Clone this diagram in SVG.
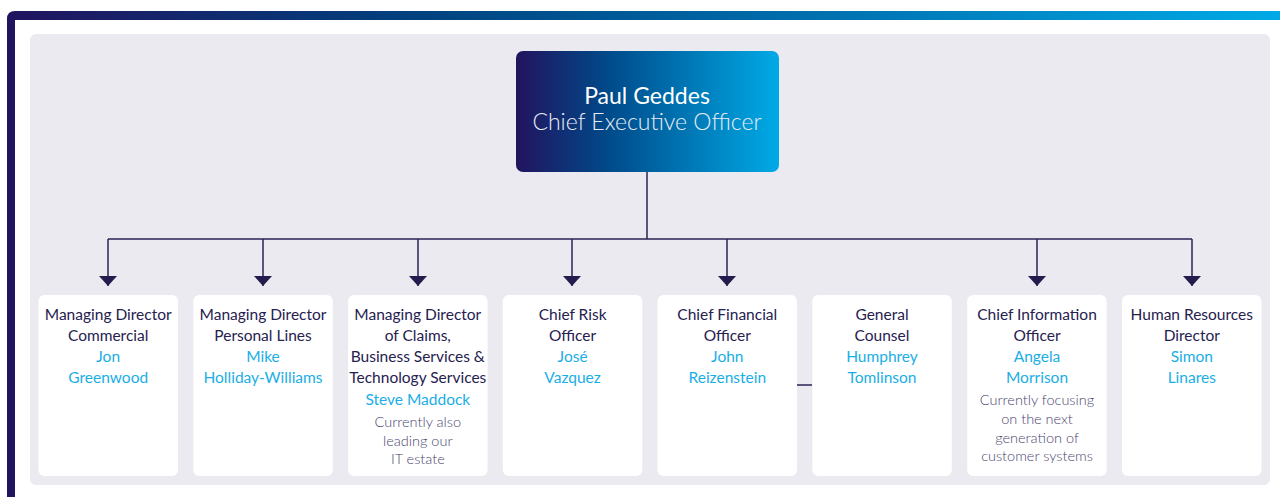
<svg xmlns="http://www.w3.org/2000/svg" width="1280" height="497" viewBox="0 0 1280 497">
<defs>
<linearGradient id="frameGrad" gradientUnits="userSpaceOnUse" x1="0" y1="0" x2="1280" y2="0">
<stop offset="0" stop-color="#22135e"/>
<stop offset="0.33" stop-color="#00427f"/>
<stop offset="0.7" stop-color="#0079b8"/>
<stop offset="1" stop-color="#00aae6"/>
</linearGradient>
<linearGradient id="ceoGrad" x1="0" y1="0" x2="1" y2="0">
<stop offset="0" stop-color="#22135e"/>
<stop offset="0.35" stop-color="#004a8a"/>
<stop offset="1" stop-color="#00aae6"/>
</linearGradient>
<marker id="arr" viewBox="0 0 10 18" refX="10" refY="9" markerWidth="10" markerHeight="18" markerUnits="userSpaceOnUse" orient="auto">
<path d="M0,0 L10,9 L0,18 Z" fill="#241c4e"/>
</marker>
<style>
.box{fill:#ffffff;}
.t{font-family:"Lato","Liberation Sans",sans-serif;font-size:15.5px;fill:#26214f;text-anchor:middle;}
.n{font-family:"Lato","Liberation Sans",sans-serif;font-size:15.5px;fill:#1aaee6;text-anchor:middle;}
.note{font-family:"Lato","Liberation Sans",sans-serif;font-size:14.5px;font-weight:300;fill:#4a4670;text-anchor:middle;}
.ln{fill:none;stroke:#2a2454;stroke-width:1.5;}
</style>
</defs>
<path d="M7,497 V19 Q7,11 15,11 H1280 V20 H15 V497 Z" fill="url(#frameGrad)"/>
<rect x="30" y="34" width="1240" height="451" rx="6" fill="#ebeaf0"/>

<g id="connectors">
<path class="ln" d="M647,172 V239"/>
<path class="ln" d="M108,239 H1192"/>
<path class="ln" d="M108,239 V286" marker-end="url(#arr)"/>
<path class="ln" d="M263,239 V286" marker-end="url(#arr)"/>
<path class="ln" d="M418,239 V286" marker-end="url(#arr)"/>
<path class="ln" d="M572,239 V286" marker-end="url(#arr)"/>
<path class="ln" d="M727,239 V286" marker-end="url(#arr)"/>
<path class="ln" d="M1037,239 V286" marker-end="url(#arr)"/>
<path class="ln" d="M1192,239 V286" marker-end="url(#arr)"/>
<path class="ln" d="M797,385 H812"/>
</g>

<g id="ceo">
<rect x="516" y="51" width="263" height="121" rx="7" fill="url(#ceoGrad)"/>
<text x="647" y="104" font-family="Lato,'Liberation Sans',sans-serif" font-size="23" fill="#ffffff" text-anchor="middle">Paul Geddes</text>
<text x="647" y="130" font-family="Lato,'Liberation Sans',sans-serif" font-size="23" font-weight="300" fill="#e8ecf4" text-anchor="middle">Chief Executive Officer</text>
</g>

<g id="md-commercial">
<rect class="box" x="38.5" y="295" width="139.5" height="181" rx="6"/>
<text class="t" x="108.2" y="320">Managing Director</text>
<text class="t" x="108.2" y="341">Commercial</text>
<text class="n" x="108.2" y="362">Jon</text>
<text class="n" x="108.2" y="383">Greenwood</text>
</g>

<g id="md-personal">
<rect class="box" x="193.3" y="295" width="139.5" height="181" rx="6"/>
<text class="t" x="263" y="320">Managing Director</text>
<text class="t" x="263" y="341">Personal Lines</text>
<text class="n" x="263" y="362">Mike</text>
<text class="n" x="263" y="383">Holliday-Williams</text>
</g>

<g id="md-claims">
<rect class="box" x="348.1" y="295" width="139.5" height="181" rx="6"/>
<text class="t" x="417.8" y="320">Managing Director</text>
<text class="t" x="417.8" y="341">of Claims,</text>
<text class="t" x="417.8" y="362">Business Services &amp;</text>
<text class="t" x="417.8" y="383">Technology Services</text>
<text class="n" x="417.8" y="405">Steve Maddock</text>
<text class="note" x="417.8" y="427">Currently also</text>
<text class="note" x="417.8" y="445.5">leading our</text>
<text class="note" x="417.8" y="464">IT estate</text>
</g>

<g id="cro">
<rect class="box" x="502.8" y="295" width="139.5" height="181" rx="6"/>
<text class="t" x="572.6" y="320">Chief Risk</text>
<text class="t" x="572.6" y="341">Officer</text>
<text class="n" x="572.6" y="362">José</text>
<text class="n" x="572.6" y="383">Vazquez</text>
</g>

<g id="cfo">
<rect class="box" x="657.5" y="295" width="139.5" height="181" rx="6"/>
<text class="t" x="727.3" y="320">Chief Financial</text>
<text class="t" x="727.3" y="341">Officer</text>
<text class="n" x="727.3" y="362">John</text>
<text class="n" x="727.3" y="383">Reizenstein</text>
</g>

<g id="gc">
<rect class="box" x="812.3" y="295" width="139.5" height="181" rx="6"/>
<text class="t" x="882" y="320">General</text>
<text class="t" x="882" y="341">Counsel</text>
<text class="n" x="882" y="362">Humphrey</text>
<text class="n" x="882" y="383">Tomlinson</text>
</g>

<g id="cio">
<rect class="box" x="967.2" y="295" width="139.5" height="181" rx="6"/>
<text class="t" x="1037" y="320">Chief Information</text>
<text class="t" x="1037" y="341">Officer</text>
<text class="n" x="1037" y="362">Angela</text>
<text class="n" x="1037" y="383">Morrison</text>
<text class="note" x="1037" y="405">Currently focusing</text>
<text class="note" x="1037" y="424">on the next</text>
<text class="note" x="1037" y="443">generation of</text>
<text class="note" x="1037" y="461">customer systems</text>
</g>

<g id="hr">
<rect class="box" x="1122" y="295" width="139.5" height="181" rx="6"/>
<text class="t" x="1191.8" y="320">Human Resources</text>
<text class="t" x="1191.8" y="341">Director</text>
<text class="n" x="1191.8" y="362">Simon</text>
<text class="n" x="1191.8" y="383">Linares</text>
</g>
</svg>
